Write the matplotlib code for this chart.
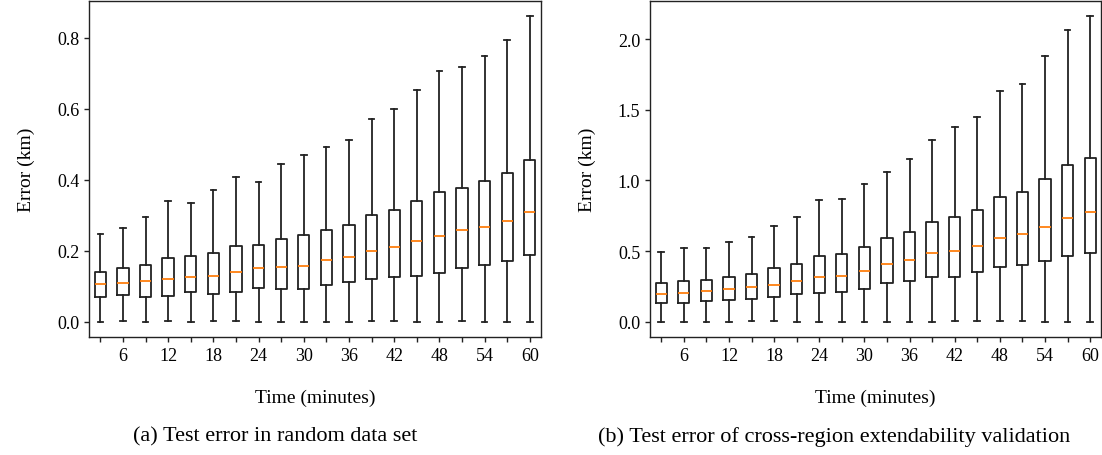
import numpy as np
import matplotlib
matplotlib.use('Agg')
import matplotlib.pyplot as plt

plt.rcParams['font.family'] = ['Liberation Serif', 'DejaVu Serif']

# time steps (minutes)
times = [3, 6, 9, 12, 15, 18, 21, 24, 27, 30, 33, 36, 39, 42, 45, 48, 51, 54, 57, 60]
tick_labels = ['', '6', '', '12', '', '18', '', '24', '', '30',
               '', '36', '', '42', '', '48', '', '54', '', '60']

# (a) random data set
a_low = [0.0, 0.002, 0.0, 0.002, 0.0, 0.001, 0.001, 0.0, 0.0, 0.0,
         0.0, 0.0, 0.002, 0.002, 0.0, 0.0, 0.002, 0.0, 0.0, 0.0]
a_q1 = [0.070, 0.075, 0.071, 0.072, 0.083, 0.078, 0.083, 0.096, 0.093, 0.092,
        0.104, 0.111, 0.121, 0.125, 0.130, 0.138, 0.151, 0.159, 0.171, 0.187]
a_med = [0.106, 0.110, 0.114, 0.119, 0.127, 0.129, 0.139, 0.152, 0.155, 0.158,
         0.174, 0.183, 0.200, 0.211, 0.228, 0.242, 0.259, 0.267, 0.283, 0.310]
a_q3 = [0.141, 0.150, 0.160, 0.180, 0.184, 0.195, 0.213, 0.215, 0.234, 0.244,
        0.259, 0.272, 0.300, 0.315, 0.339, 0.365, 0.378, 0.396, 0.419, 0.456]
a_high = [0.247, 0.264, 0.294, 0.341, 0.335, 0.372, 0.409, 0.395, 0.444, 0.471,
          0.491, 0.512, 0.570, 0.600, 0.654, 0.705, 0.717, 0.750, 0.793, 0.862]

# (b) cross-region extendability validation
b_low = [0.0, 0.0, 0.0, 0.0, 0.002, 0.002, 0.0, 0.0, 0.0, 0.0,
         0.0, 0.0, 0.0, 0.005, 0.005, 0.005, 0.005, 0.0, 0.0, 0.0]
b_q1 = [0.132, 0.134, 0.144, 0.155, 0.158, 0.174, 0.193, 0.205, 0.212, 0.233,
        0.271, 0.290, 0.320, 0.316, 0.349, 0.384, 0.403, 0.431, 0.466, 0.488]
b_med = [0.198, 0.205, 0.214, 0.229, 0.243, 0.259, 0.285, 0.313, 0.323, 0.358,
         0.405, 0.438, 0.483, 0.499, 0.537, 0.589, 0.620, 0.669, 0.737, 0.777]
b_q3 = [0.276, 0.287, 0.294, 0.320, 0.337, 0.377, 0.412, 0.466, 0.476, 0.532,
        0.589, 0.638, 0.707, 0.740, 0.792, 0.881, 0.919, 1.011, 1.107, 1.157]
b_high = [0.492, 0.521, 0.525, 0.563, 0.601, 0.678, 0.740, 0.860, 0.869, 0.978,
          1.062, 1.150, 1.289, 1.378, 1.449, 1.630, 1.684, 1.877, 2.066, 2.165]


def make_stats(low, q1, med, q3, high):
    stats = []
    for i in range(len(times)):
        stats.append({'whislo': low[i], 'q1': q1[i], 'med': med[i],
                      'q3': q3[i], 'whishi': high[i], 'fliers': []})
    return stats


fig = plt.figure(figsize=(11.02, 4.56), dpi=100)
ax1 = fig.add_axes([0.0808, 0.2588, 0.4102, 0.7379])
ax2 = fig.add_axes([0.5898, 0.2588, 0.4097, 0.7379])

lw = 1.3
for ax, st in [(ax1, make_stats(a_low, a_q1, a_med, a_q3, a_high)),
               (ax2, make_stats(b_low, b_q1, b_med, b_q3, b_high))]:
    ax.bxp(st, positions=times, widths=1.5, showfliers=False,
           boxprops={'linewidth': lw, 'color': '#222222'},
           whiskerprops={'linewidth': lw, 'color': '#222222'},
           capprops={'linewidth': lw, 'color': '#222222'},
           medianprops={'linewidth': lw, 'color': '#ff7f0e'})
    ax.set_xlim(1.5, 61.5)
    ax.set_xticks(times)
    ax.set_xticklabels(tick_labels, fontsize=13)
    ax.tick_params(axis='y', labelsize=13)
    ax.tick_params(width=1.0, color='#222222')
    for s in ax.spines.values():
        s.set_linewidth(1.0)
        s.set_color('#222222')
    ax.set_xlabel('Time (minutes)', fontsize=14, labelpad=18)
    ax.set_ylabel('Error (km)', fontsize=14, labelpad=16)

ax1.set_ylim(-0.043, 0.905)
ax1.set_yticks([0.0, 0.2, 0.4, 0.6, 0.8])
ax2.set_ylim(-0.108, 2.273)
ax2.set_yticks([0.0, 0.5, 1.0, 1.5, 2.0])

fig.text(275 / 1102, 1 - 437 / 456, '(a) Test error in random data set',
         ha='center', va='center', fontsize=16)
fig.text(834 / 1102, 1 - 437 / 456, '(b) Test error of cross-region extendability validation',
         ha='center', va='center', fontsize=16)

fig.savefig('out.png', dpi=100)
